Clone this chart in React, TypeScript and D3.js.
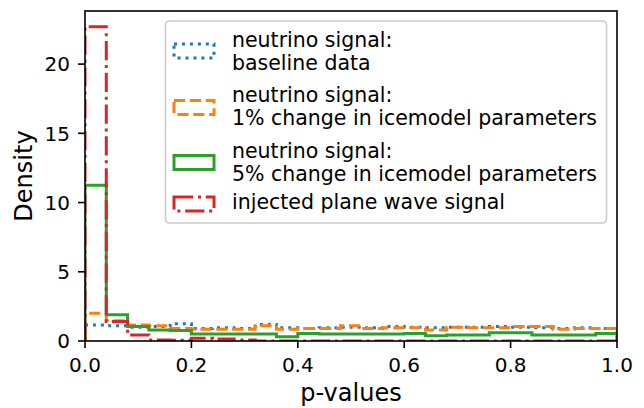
import React, { useEffect, useRef } from 'react';
import * as d3 from 'd3';

// histogram bin edges (25 bins of width 0.04)
const binEdges = [0, 0.04, 0.08, 0.12, 0.16, 0.2, 0.24, 0.28, 0.32, 0.36, 0.4, 0.44, 0.48,
  0.52, 0.56, 0.6, 0.64, 0.68, 0.72, 0.76, 0.8, 0.84, 0.88, 0.92, 0.96, 1.0];

// densities per bin
const baseline = [1.15, 1.1, 1.0, 1.05, 1.25, 0.9, 0.95, 0.9, 1.2, 0.95, 0.9, 0.95, 1.0,
  0.95, 1.05, 1.0, 0.95, 1.0, 1.0, 1.05, 1.0, 0.95, 0.9, 0.95, 0.9];
const change1 = [2.0, 1.47, 1.15, 1.1, 0.9, 0.85, 0.85, 0.85, 1.1, 0.85, 0.9, 0.9, 1.1,
  0.9, 0.95, 0.95, 0.8, 1.0, 0.95, 0.95, 1.05, 1.05, 0.85, 0.9, 0.9];
const change5 = [11.25, 1.9, 1.05, 0.8, 0.75, 0.5, 0.5, 0.5, 0.5, 0.31, 0.55, 0.5, 0.5,
  0.5, 0.5, 0.55, 0.38, 0.43, 0.43, 0.6, 0.6, 0.43, 0.43, 0.43, 0.55];
const planeWave = [22.7, 1.4, 0.43, 0.07, 0.05, 0.2, 0.15, 0.07, 0, 0, 0, 0, 0,
  0, 0, 0, 0, 0, 0, 0, 0, 0, 0, 0, 0];

const seriesLabels = [
  ['neutrino signal:', 'baseline data'],
  ['neutrino signal:', '1% change in icemodel parameters'],
  ['neutrino signal:', '5% change in icemodel parameters'],
  ['injected plane wave signal'],
];
const seriesColors = ['#1f77b4', '#ff7f0e', '#2ca02c', '#d62728'];
const seriesDash = ['3,4.95', '11.1,4.8', null, '19.2,4.8,3,4.8'];

const xTicks = [0, 0.2, 0.4, 0.6, 0.8, 1.0];
const yTicks = [0, 5, 10, 15, 20];

export default function App() {
  const ref = useRef<SVGSVGElement>(null);

  useEffect(() => {
    const svg = d3.select(ref.current);
    svg.selectAll('*').remove();
    const left = 85, right = 617, top = 11, bottom = 341;
    const font = 'DejaVu Sans, sans-serif';

    const x = d3.scaleLinear().domain([0, 1]).range([left, right]);
    const yMax = d3.max(planeWave)! * 1.05;
    const y = d3.scaleLinear().domain([0, yMax]).range([bottom, top]);

    svg.append('rect').attr('width', 644).attr('height', 408).attr('fill', 'white');

    svg.append('defs').append('clipPath').attr('id', 'plotclip')
      .append('rect')
        .attr('x', left).attr('y', top)
        .attr('width', right - left).attr('height', bottom - top);

    const line = d3.line<[number, number]>().x(d => x(d[0])).y(d => y(d[1]));
    const stepPoints = (vals: number[]) => {
      const pts: [number, number][] = [[binEdges[0], 0]];
      vals.forEach((v, i) => {
        pts.push([binEdges[i], v]);
        pts.push([binEdges[i + 1], v]);
      });
      pts.push([binEdges[binEdges.length - 1], 0]);
      return pts;
    };

    const data = [baseline, change1, change5, planeWave];
    const plot = svg.append('g').attr('clip-path', 'url(#plotclip)');
    data.forEach((vals, i) => {
      plot.append('path')
        .attr('d', line(stepPoints(vals)))
        .attr('fill', 'none')
        .attr('stroke', seriesColors[i])
        .attr('stroke-width', 3)
        .attr('stroke-linejoin', 'miter')
        .attr('stroke-dasharray', seriesDash[i]);
    });

    // x axis
    const xAxis = svg.append('g');
    xTicks.forEach(t => {
      xAxis.append('line')
        .attr('x1', x(t)).attr('x2', x(t))
        .attr('y1', bottom).attr('y2', bottom + 7)
        .attr('stroke', 'black').attr('stroke-width', 1.6);
      xAxis.append('text')
        .attr('x', x(t)).attr('y', bottom + 31)
        .attr('text-anchor', 'middle')
        .attr('font-family', font).attr('font-size', 20)
        .text(d3.format('.1f')(t));
    });
    svg.append('text')
      .attr('x', (left + right) / 2).attr('y', 401)
      .attr('text-anchor', 'middle')
      .attr('font-family', font).attr('font-size', 24)
      .text('p-values');

    // y axis
    const yAxis = svg.append('g');
    yTicks.forEach(t => {
      yAxis.append('line')
        .attr('x1', left - 7).attr('x2', left)
        .attr('y1', y(t)).attr('y2', y(t))
        .attr('stroke', 'black').attr('stroke-width', 1.6);
      yAxis.append('text')
        .attr('x', left - 15).attr('y', y(t))
        .attr('dy', '0.36em')
        .attr('text-anchor', 'end')
        .attr('font-family', font).attr('font-size', 20)
        .text(t);
    });
    svg.append('text')
      .attr('transform', `translate(32,${(top + bottom) / 2}) rotate(-90)`)
      .attr('text-anchor', 'middle')
      .attr('font-family', font).attr('font-size', 24)
      .text('Density');

    // spines
    svg.append('rect')
      .attr('x', left).attr('y', top)
      .attr('width', right - left).attr('height', bottom - top)
      .attr('fill', 'none').attr('stroke', 'black').attr('stroke-width', 1.6);

    // legend
    const legend = svg.append('g');
    legend.append('rect')
      .attr('x', 165.5).attr('y', 21).attr('width', 441).attr('height', 202)
      .attr('rx', 4)
      .attr('fill', 'white').attr('fill-opacity', 0.8)
      .attr('stroke', '#cccccc').attr('stroke-width', 1.6);
    const handleCenters = [51, 107.5, 162.5, 204];
    const textBaselines = [[47, 70], [102, 125], [158, 181], [209]];
    seriesLabels.forEach((lines, i) => {
      legend.append('rect')
        .attr('x', 174).attr('y', handleCenters[i] - 7)
        .attr('width', 40).attr('height', 14)
        .attr('fill', 'none')
        .attr('stroke', seriesColors[i])
        .attr('stroke-width', 3)
        .attr('stroke-dasharray', seriesDash[i]);
      lines.forEach((s, j) => {
        legend.append('text')
          .attr('x', 232).attr('y', textBaselines[i][j])
          .attr('font-family', font).attr('font-size', 20.5)
          .text(s);
      });
    });
  }, []);

  return (
    <svg ref={ref} width={644} height={408}
      style={{ position: 'absolute', left: 0, top: 0 }}></svg>
  );
}
